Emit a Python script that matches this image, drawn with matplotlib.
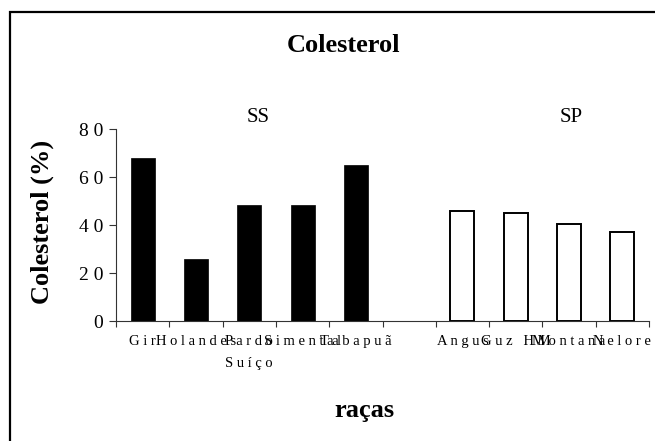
import matplotlib
matplotlib.use("Agg")
import matplotlib.pyplot as plt
from matplotlib.patches import Rectangle
from matplotlib.ticker import FixedLocator

# ---- data ----
racas = ["Gir", "Holandes", "Pardo\nSuíço", "Simental", "Tabapuã", "",
         "Angus", "Guz HM", "Montana", "Nelore"]
ss_racas = ["Gir", "Holandes", "Pardo\nSuíço", "Simental", "Tabapuã"]
ss_vals = [68, 26, 48.5, 48.5, 65]
sp_racas = ["Angus", "Guz HM", "Montana", "Nelore"]
sp_vals = [46, 45, 40.5, 37]
yticks = [0, 20, 40, 60, 80]
title = "Colesterol"
ylabel = "Colesterol (%)"
xlabel = "raças"

plt.rcParams['font.family'] = ['Liberation Serif', 'DejaVu Serif']

def spaced(s):
    return "\n".join(" ".join(list(line)) for line in s.split("\n"))

W, H = 655, 441
fig = plt.figure(figsize=(W / 100, H / 100), dpi=100)
ax = fig.add_axes([116 / W, 1 - 321 / H, (649 - 116) / W, (321 - 129) / H])

pos = {r: i for i, r in enumerate(racas)}
ss_x = [pos[r] for r in ss_racas]
sp_x = [pos[r] for r in sp_racas]

ax.bar(ss_x, ss_vals, width=0.45, color="black", edgecolor="black", linewidth=0.5)
ax.bar(sp_x, sp_vals, width=0.45, color="white", edgecolor="black", linewidth=1.4)

ax.set_xlim(-0.5, len(racas) - 0.5)
ax.set_ylim(0, 80)

ax.set_xticks(range(len(racas)))
ax.set_xticklabels([spaced(r) for r in racas], fontsize=10.5, linespacing=1.9)
ax.xaxis.set_minor_locator(FixedLocator([i - 0.5 for i in range(len(racas) + 1)]))
ax.tick_params(axis="x", which="major", length=0, pad=10)
ax.tick_params(axis="x", which="minor", length=4, width=0.8, color="#333333", direction="out")

ax.set_yticks(yticks)
ax.set_yticklabels([spaced(str(v)) for v in yticks], fontsize=14)
ax.tick_params(axis="y", length=5, width=0.8, color="#333333", pad=4, direction="out")

for s in ["top", "right"]:
    ax.spines[s].set_visible(False)
for s in ["left", "bottom"]:
    ax.spines[s].set_color("#333333")
    ax.spines[s].set_linewidth(0.8)

fig.text(343 / W, 1 - 46 / H, title, ha="center", va="center", fontsize=19, fontweight="bold")
fig.text(258 / W, 1 - 117 / H, "SS", ha="center", va="center", fontsize=15)
fig.text(571 / W, 1 - 117 / H, "SP", ha="center", va="center", fontsize=15)
fig.text(42 / W, 1 - 222 / H, ylabel, ha="center", va="center", rotation=90,
         fontsize=19, fontweight="bold")
fig.text(364 / W, 1 - 410 / H, xlabel, ha="center", va="center", fontsize=19, fontweight="bold")

fig.patches.append(Rectangle((10 / W, -1), 5, 1 - 12 / H + 1, transform=fig.transFigure,
                             fill=False, edgecolor="black", linewidth=1.6, clip_on=False))

fig.savefig("out.png", dpi=100)
